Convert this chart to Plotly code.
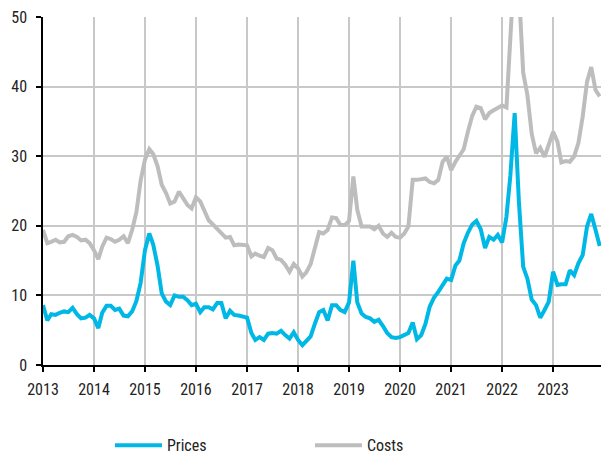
import pandas as pd
import plotly.graph_objects as go

# Monthly index, Jan 2013 - Dec 2023
months = pd.date_range("2013-01-01", "2023-12-01", freq="MS")

prices = [
    # 2013
    8.6, 6.4, 7.3, 7.2, 7.5, 7.7, 7.6, 8.2, 7.3, 6.7, 6.8, 7.2,
    # 2014
    6.7, 5.3, 7.5, 8.5, 8.5, 7.9, 8.1, 7.1, 7.0, 7.7, 9.2, 11.8,
    # 2015
    16.5, 18.9, 17.3, 14.3, 10.3, 9.1, 8.6, 10.0, 9.8, 9.8, 9.3, 8.6,
    # 2016
    8.8, 7.6, 8.3, 8.3, 8.0, 8.9, 8.9, 6.7, 7.8, 7.2, 7.1, 7.0,
    # 2017
    6.8, 4.6, 3.6, 4.0, 3.6, 4.5, 4.6, 4.5, 4.9, 4.3, 3.8, 4.7,
    # 2018
    3.6, 2.85, 3.4, 4.1, 5.9, 7.6, 7.9, 6.4, 8.6, 8.6, 7.9, 7.6,
    # 2019
    9.0, 15.0, 9.0, 7.4, 6.9, 6.7, 6.2, 6.5, 5.6, 4.6, 4.0, 3.9,
    # 2020
    4.0, 4.3, 4.6, 6.1, 3.7, 4.3, 5.9, 8.4, 9.7, 10.5, 11.6, 12.4,
    # 2021
    12.2, 14.3, 15.0, 17.5, 19.0, 20.2, 20.7, 19.5, 16.8, 18.4, 18.0, 18.7,
    # 2022
    17.6, 21.3, 27.2, 36.2, 23.5, 14.1, 12.4, 9.4, 8.6, 6.8, 7.9, 9.1,
    # 2023
    13.4, 11.5, 11.6, 11.6, 13.6, 12.9, 14.6, 15.8, 19.9, 21.7, 19.4, 17.1,
]

costs = [
    # 2013
    19.4, 17.5, 17.7, 18.0, 17.6, 17.7, 18.5, 18.7, 18.4, 17.9, 18.0, 17.5,
    # 2014
    16.5, 15.2, 17.0, 18.3, 18.1, 17.7, 18.0, 18.5, 17.5, 19.4, 22.0, 26.5,
    # 2015
    29.5, 31.0, 30.3, 28.6, 25.9, 24.7, 23.2, 23.5, 24.9, 24.0, 23.0, 22.5,
    # 2016
    24.1, 23.5, 22.3, 20.8, 20.2, 19.6, 18.9, 18.3, 18.4, 17.2, 17.3, 17.2,
    # 2017
    17.2, 15.6, 16.0, 15.7, 15.5, 16.8, 16.5, 15.3, 15.1, 14.4, 13.4, 14.5,
    # 2018
    13.9, 12.7, 13.3, 14.5, 16.6, 19.1, 18.9, 19.4, 21.2, 21.1, 20.1, 20.1,
    # 2019
    20.7, 27.1, 22.3, 19.9, 19.9, 19.9, 19.5, 20.0, 18.9, 18.4, 19.0, 18.4,
    # 2020
    18.3, 18.9, 19.9, 26.6, 26.6, 26.7, 26.8, 26.3, 26.1, 26.6, 29.2, 29.9,
    # 2021
    28.0, 29.2, 30.0, 31.0, 33.5, 35.8, 37.1, 36.9, 35.3, 36.2, 36.6, 36.9,
    # 2022
    37.3, 37.0, 49.5, 58.0, 54.0, 42.0, 38.8, 33.2, 30.4, 31.2, 29.9, 31.5,
    # 2023
    33.5, 32.1, 29.1, 29.3, 29.2, 30.0, 31.9, 35.7, 40.7, 42.8, 39.5, 38.6,
]

y_ticks = [0, 10, 20, 30, 40, 50]

FONT = "Liberation Sans Narrow, Roboto Condensed, Roboto, sans-serif"
CYAN = "#00B8E6"
GREY = "#BDBDBD"

fig = go.Figure()
fig.add_trace(go.Scatter(x=months, y=prices, name="Prices", mode="lines",
                         line=dict(color=CYAN, width=4)))
fig.add_trace(go.Scatter(x=months, y=costs, name="Costs", mode="lines",
                         line=dict(color=GREY, width=4)))

fig.update_layout(
    width=601, height=454,
    margin=dict(l=43, r=0, t=17, b=89, autoexpand=False),
    paper_bgcolor="white", plot_bgcolor="white",
    font=dict(family=FONT, size=16, color="#222222"),
    showlegend=True,
    legend=dict(orientation="h", x=0.12, xanchor="left", y=-0.182, yanchor="top",
                entrywidth=138, entrywidthmode="pixels", itemwidth=47,
                font=dict(family=FONT, size=16, color="#222222")),
)

fig.update_xaxes(
    type="date",
    range=["2013-01-01", "2023-12-10"],
    dtick="M12", tick0="2013-01-01", tickformat="%Y",
    showgrid=True, gridcolor="#C8C8C8", gridwidth=1.5,
    showline=True, linecolor="black", linewidth=1.5,
    ticks="outside", ticklen=5, tickcolor="black", tickwidth=1.5,
    ticklabelstandoff=4,
    zeroline=False,
)
fig.update_yaxes(
    range=[0, 50], tickvals=y_ticks,
    showgrid=True, gridcolor="#C8C8C8", gridwidth=1.5,
    showline=True, linecolor="black", linewidth=1.5,
    ticks="outside", ticklen=5, tickcolor="black", tickwidth=1.5,
    ticklabelstandoff=6,
    zeroline=False,
)

fig.write_html("out.html")
